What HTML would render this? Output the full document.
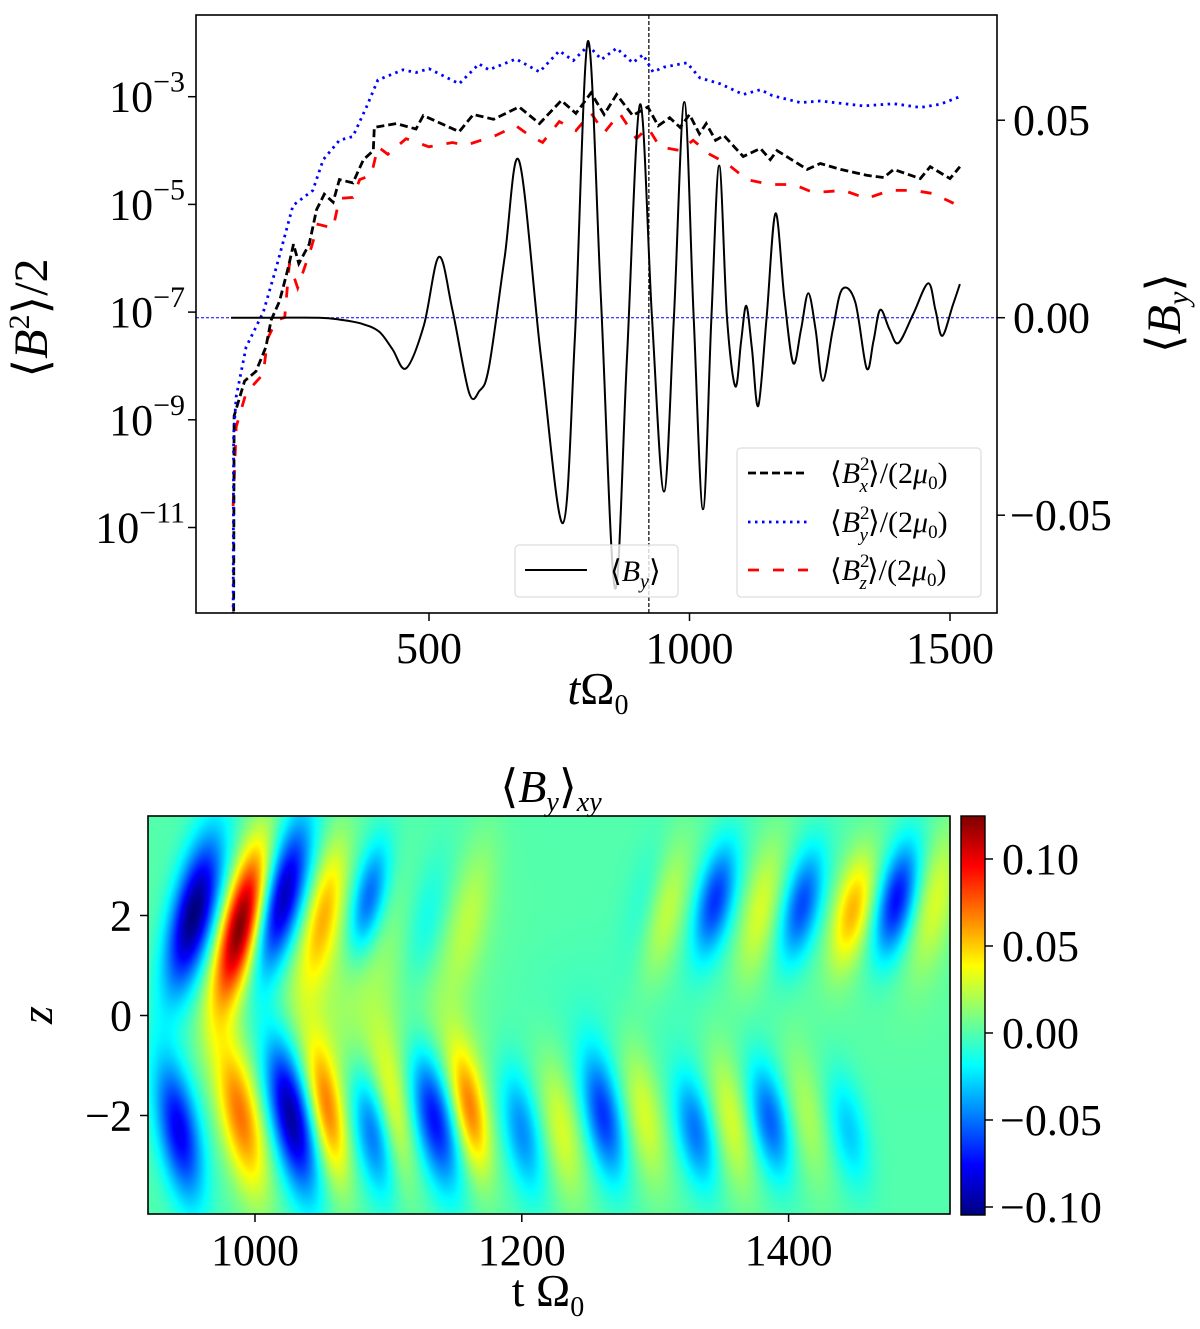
<!DOCTYPE html>
<html><head><meta charset="utf-8">
<style>
html,body{margin:0;padding:0;background:#fff;}
#wrap{position:relative;width:1200px;height:1329px;overflow:hidden;font-family:"Liberation Serif",serif;}
svg{position:absolute;left:0;top:0;}
#hm{position:absolute;left:148px;top:816px;width:802px;height:398px;}
#cb{position:absolute;left:961px;top:816px;width:24px;height:399px;}
</style></head>
<body>
<div id="wrap">
<canvas id="hm" width="802" height="398"></canvas>
<canvas id="cb" width="24" height="399"></canvas>
<svg id="svg" width="1200" height="1329" xmlns="http://www.w3.org/2000/svg"></svg>
</div>
<script>
// ---------- Top chart data ----------
const byT = [120,200,289,330,370,404,430,456,490,519,545,577,597,615,645,673,715,757,780,805,830,857,880,905,928,951,970,990,1008,1026,1042,1057,1072,1088,1099,1109,1120,1132,1148,1165,1182,1199,1214,1228,1242,1256,1275,1293,1318,1340,1353,1366,1384,1401,1429,1458,1472,1485,1505,1519];
const byV = [0,0,0,-0.0005,-0.0015,-0.0035,-0.008,-0.0128,-0.002,0.0154,0.002,-0.019,-0.0185,-0.0126,0.015,0.0397,-0.01,-0.052,-0.005,0.070,0.005,-0.0685,-0.01,0.054,0.0,-0.044,0.0,0.0546,0.0,-0.0485,0.0,0.0385,0.0,-0.0174,-0.006,0.003,-0.008,-0.0223,0.0,0.0264,0.005,-0.0115,-0.003,0.0062,-0.003,-0.016,-0.003,0.0072,0.004,-0.0128,-0.006,0.002,-0.003,-0.0064,0.0008,0.0087,0.002,-0.0046,0.003,0.0085];

const bxT = [125,126,146,168,187,197,213,230,240,250,270,284,299,316,328,354,374,393,395,437,475,489,558,585,624,673,712,754,782,811,836,860,891,920,940,962,982,1000,1019,1032,1050,1066,1103,1136,1155,1168,1226,1251,1290,1340,1373,1392,1443,1462,1500,1519];
const bxL = [-13,-8.93,-8.28,-8.1,-7.65,-7.15,-6.8,-6.17,-5.74,-6.1,-5.74,-5.1,-4.81,-4.96,-4.54,-4.6,-4.17,-4.0,-3.57,-3.5,-3.6,-3.35,-3.65,-3.33,-3.42,-3.19,-3.5,-3.07,-3.31,-2.93,-3.33,-2.96,-3.35,-3.19,-3.54,-3.39,-3.57,-3.33,-3.69,-3.5,-3.81,-3.72,-4.11,-3.96,-4.17,-4.0,-4.35,-4.24,-4.35,-4.46,-4.5,-4.35,-4.52,-4.3,-4.52,-4.3];

const byyT = [124,125,130,149,182,207,239,277,297,328,354,380,402,450,475,500,558,596,615,667,712,750,777,806,831,860,891,911,930,951,995,1020,1059,1103,1136,1159,1213,1251,1334,1392,1443,1481,1519];
const byyL = [-13,-9.28,-8.57,-7.65,-7.0,-6.17,-5.02,-4.74,-4.17,-3.81,-3.74,-3.19,-2.69,-2.5,-2.55,-2.48,-2.76,-2.39,-2.5,-2.3,-2.54,-2.15,-2.33,-2.05,-2.31,-2.1,-2.37,-2.22,-2.54,-2.45,-2.37,-2.65,-2.76,-2.96,-2.87,-2.98,-3.11,-3.08,-3.17,-3.13,-3.2,-3.14,-3.0];

const bzT = [124,130,149,182,190,207,223,232,248,274,287,316,328,354,367,389,402,421,456,500,545,571,628,667,693,718,750,782,811,836,866,898,920,943,982,1007,1039,1072,1110,1155,1200,1238,1296,1340,1385,1430,1468,1507];
const bzL = [-10.6,-9.13,-8.5,-8.15,-7.5,-7.15,-7.1,-6.1,-6.55,-5.8,-5.37,-5.44,-4.89,-4.87,-4.54,-4.46,-3.93,-4.07,-3.78,-3.93,-3.85,-3.9,-3.72,-3.54,-3.72,-3.85,-3.46,-3.63,-3.3,-3.67,-3.31,-3.78,-3.57,-3.93,-4.0,-3.81,-4.07,-4.24,-4.54,-4.63,-4.63,-4.78,-4.74,-4.89,-4.74,-4.74,-4.8,-4.98];

const topXTicks = [500,1000,1500];
const logTicks = [-3,-5,-7,-9,-11];
const rightTicks = [0.05,0.00,-0.05];
const refTime = 922;

// ---------- Heatmap data (blobs) ----------
const blobT   = [954,989,1021,1052,1085,1127,1161,1295,1307,1345,1379,1410,1448,1481,1510, 943,989,1027,1054,1088,1104,1134,1161,1200,1230,1261,1292,1330,1357,1386,1414,1445, 1060,1110,1250,1400];
const blobZ   = [2.0,1.8,2.3,2.1,2.3,1.7,2.0,2.3,2.1,2.3,2.1,2.2,2.1,2.3,2.3, -2.3,-2.0,-2.0,-1.9,-2.3,-2.0,-2.0,-1.9,-2.3,-2.3,-2.0,-2.0,-2.3,-2.1,-2.1,-2.0,-2.3, 1.0,-0.8,0.2,0.3];
const blobA   = [-0.11,0.12,-0.1,0.045,-0.06,-0.022,0.02,-0.015,0.03,-0.065,0.03,-0.06,0.055,-0.075,0.03, -0.08,0.07,-0.1,0.065,-0.055,0.03,-0.08,0.065,-0.045,0.03,-0.065,0.03,-0.05,0.03,-0.055,0.02,-0.03, 0.018,0.015,-0.006,0.004];
const blobST  = [12,10,11,9,9,11,11,11,11,10,10,10,10,10,11, 11,11,11,9,10,9,11,9,10,10,10,10,10,10,10,10,10, 70,50,120,120];
const blobSZ  = [1.1,1.1,1.1,1.0,0.8,1.0,1.1,0.9,1.0,0.8,1.0,0.8,0.8,0.8,1.0, 1.0,1.1,1.1,1.0,0.9,1.0,1.0,0.9,0.9,1.0,0.9,1.0,0.8,1.0,0.8,1.0,0.8, 1.2,1.0,1.0,1.0];
const blobTilt= [8,8,8,7,7,7,7,7,7,7,7,7,7,7,7, -6,-7,-7,-6,-6,-6,-7,-6,-6,-6,-6,-6,-6,-6,-6,-6,-6, 0,0,0,0];
const hmBase = 0.0;
const hmXTicks = [1000,1200,1400];
const hmZTicks = [2,0,-2];
const cbTicks = [0.10,0.05,0.00,-0.05,-0.10];

// ---------- scales ----------
const xs = t => 168.5 + t*0.521;
const ylog = L => 96.7 + (-3 - L)*53.85;
const yby = v => 317.7 - v*3950;
const TL=196,TR=997,TT=15,TB=613;
const HL=148,HR=950,HT=816,HB=1214,T0=919.8,T1=1521,Z0=3.99,Z1=-3.97;
const hx = t => HL + (t-T0)/(T1-T0)*(HR-HL);
const hz = z => HT + (Z0-z)/(Z0-Z1)*(HB-HT);
const CMIN=-0.1046,CMAX=0.1247;
const cy = v => HT + (CMAX-v)/(CMAX-CMIN)*(1215-816);

const NS="http://www.w3.org/2000/svg";
const svg=document.getElementById('svg');
function mk(tag,attrs,parent){const e=document.createElementNS(NS,tag);for(const k in attrs)e.setAttribute(k,attrs[k]);(parent||svg).appendChild(e);return e;}

const defs=mk('defs',{});
const cp=mk('clipPath',{id:'clipTop'},defs);
mk('rect',{x:TL,y:TT,width:TR-TL,height:TB-TT},cp);

function linePath(T,V,fx,fy){let d='';for(let i=0;i<T.length;i++){d+=(i?'L':'M')+fx(T[i]).toFixed(1)+','+fy(V[i]).toFixed(1);}return d;}
function smoothPath(T,V,fx,fy){const P=T.map((t,i)=>[fx(t),fy(V[i])]);let d='M'+P[0][0].toFixed(1)+','+P[0][1].toFixed(1);
 for(let i=0;i<P.length-1;i++){const p0=P[Math.max(0,i-1)],p1=P[i],p2=P[i+1],p3=P[Math.min(P.length-1,i+2)];
 const c1=[p1[0]+(p2[0]-p0[0])/6,p1[1]+(p2[1]-p0[1])/6],c2=[p2[0]-(p3[0]-p1[0])/6,p2[1]-(p3[1]-p1[1])/6];
 d+='C'+c1[0].toFixed(1)+','+c1[1].toFixed(1)+' '+c2[0].toFixed(1)+','+c2[1].toFixed(1)+' '+p2[0].toFixed(1)+','+p2[1].toFixed(1);}return d;}

const g=mk('g',{'clip-path':'url(#clipTop)'});


const zl=mk('line',{x1:TL,x2:TR,y1:yby(0),y2:yby(0),stroke:'#0000ff','stroke-width':1,'stroke-dasharray':'3,2'},g);


const vl=mk('line',{x1:xs(refTime),x2:xs(refTime),y1:TT,y2:TB,stroke:'#000','stroke-width':1.2,'stroke-dasharray':'4,2'},g);


const pz=mk('path',{d:linePath(bzT,bzL,xs,ylog),fill:'none',stroke:'#ff0000','stroke-width':2.8,'stroke-dasharray':'11,14'},g);


const px=mk('path',{d:linePath(bxT,bxL,xs,ylog),fill:'none',stroke:'#000','stroke-width':2.8,'stroke-dasharray':'8,4'},g);


const py=mk('path',{d:linePath(byyT,byyL,xs,ylog),fill:'none',stroke:'#0000ff','stroke-width':2.8,'stroke-dasharray':'2.5,4.5'},g);


const pb=mk('path',{d:smoothPath(byT,byV,xs,yby),fill:'none',stroke:'#000','stroke-width':2},g);



const frame=mk('rect',{x:TL,y:TT,width:TR-TL,height:TB-TT,fill:'none',stroke:'#000','stroke-width':1.6});



function txt(s,x,y,size,anchor,parent){const t=mk('text',{x:x,y:y,'font-size':size,'text-anchor':anchor||'middle','font-family':'Liberation Serif, serif'},parent);t.innerHTML=s;return t;}

topXTicks.forEach(v=>{const x=xs(v);mk('line',{x1:x,x2:x,y1:TB,y2:TB+8,stroke:'#000','stroke-width':1.5});
 const t=txt(String(v),x,663,44);});
logTicks.forEach(L=>{const y=ylog(L);mk('line',{x1:TL-8,x2:TL,y1:y,y2:y,stroke:'#000','stroke-width':1.5});
 const t=txt('10<tspan dy="-20" font-size="30">−'+(-L)+'</tspan>',185,y+15,44,'end');});
rightTicks.forEach(v=>{const y=yby(v);mk('line',{x1:TR,x2:TR+8,y1:y,y2:y,stroke:'#000','stroke-width':1.5});
 const s=(v<0?'−':'')+Math.abs(v).toFixed(2);const t=txt(s,v<0?1010:1013,y+15,44,'start');});

let t1=txt('t<tspan font-style="normal">Ω</tspan><tspan font-size="28" dy="10" font-style="normal">0</tspan>',598,704,46);t1.setAttribute('font-style','italic');

let yl=txt('⟨<tspan font-style="italic">B</tspan><tspan font-size="30" dy="-18">2</tspan><tspan dy="18">⟩/2</tspan>',0,0,48);
yl.setAttribute('transform','translate(47,318) rotate(-90)');

let yr=txt('⟨<tspan font-style="italic">B</tspan><tspan font-size="30" dy="8" font-style="italic">y</tspan><tspan dy="-8">⟩</tspan>',0,0,48);
yr.setAttribute('transform','translate(1180,313) rotate(-90)');


const lg1=mk('g',{});

mk('rect',{x:515,y:545,width:163,height:52,rx:4,fill:'rgba(255,255,255,0.8)',stroke:'#ddd','stroke-width':1.2},lg1);
mk('line',{x1:525,x2:587,y1:570,y2:570,stroke:'#000','stroke-width':2},lg1);
txt('⟨<tspan font-style="italic">B</tspan><tspan font-size="20" dy="7" font-style="italic">y</tspan><tspan dy="-7">⟩</tspan>',610,581,30,'start',lg1);

const lg2=mk('g',{});

mk('rect',{x:737,y:448,width:244,height:149,rx:4,fill:'rgba(255,255,255,0.8)',stroke:'#ddd','stroke-width':1.2},lg2);
const legY=[473,522,570],legC=['#000','#0000ff','#ff0000'],legD=['8,4','2.5,4.5','11,14'],legS=['x','y','z'];
for(let i=0;i<3;i++){
 const e=mk('line',{x1:748,x2:808,y1:legY[i],y2:legY[i],stroke:legC[i],'stroke-width':2.8,'stroke-dasharray':legD[i]},lg2);
 
 
 const t=txt('⟨<tspan font-style="italic">B</tspan><tspan font-size="19" dy="-13">2</tspan><tspan font-size="19" dx="-10" dy="22" font-style="italic">'+legS[i]+'</tspan><tspan dy="-9">⟩/(2</tspan><tspan font-style="italic">μ</tspan><tspan font-size="19" dy="6">0</tspan><tspan dy="-6">)</tspan>',830,legY[i]+10,30,'start',lg2);
 
 
}

// ---------- heatmap ----------
function jet(v){const c=x=>Math.max(0,Math.min(1,x));return [c(1.5-Math.abs(4*v-3)),c(1.5-Math.abs(4*v-2)),c(1.5-Math.abs(4*v-1))];}
const cv=document.getElementById('hm'),ctx=cv.getContext('2d');
const W=cv.width,H=cv.height,img=ctx.createImageData(W,H);
for(let j=0;j<H;j++){const z=Z0+(Z1-Z0)*(j+0.5)/H;
 for(let i=0;i<W;i++){const t=T0+(T1-T0)*(i+0.5)/W;let v=hmBase;
  for(let k=0;k<blobT.length;k++){const dz=z-blobZ[k];const dt=t-blobT[k]-blobTilt[k]*dz;
   const e=(dt*dt)/(2*blobST[k]*blobST[k])+(dz*dz)/(2*blobSZ[k]*blobSZ[k]);if(e<12)v+=blobA[k]*Math.exp(-e);}
  const c=jet((v-CMIN)/(CMAX-CMIN));const p=(j*W+i)*4;
  img.data[p]=c[0]*255;img.data[p+1]=c[1]*255;img.data[p+2]=c[2]*255;img.data[p+3]=255;}}
ctx.putImageData(img,0,0);
const cb=document.getElementById('cb'),cctx=cb.getContext('2d');
for(let j=0;j<cb.height;j++){const v=CMAX-(CMAX-CMIN)*(j+0.5)/cb.height;const c=jet((v-CMIN)/(CMAX-CMIN));
 cctx.fillStyle='rgb('+Math.round(c[0]*255)+','+Math.round(c[1]*255)+','+Math.round(c[2]*255)+')';cctx.fillRect(0,j,24,1);}

const hf=mk('rect',{x:HL,y:HT,width:HR-HL,height:HB-HT,fill:'none',stroke:'#000','stroke-width':1.6});

const cf=mk('rect',{x:961,y:816,width:24,height:399,fill:'none',stroke:'#000','stroke-width':1.4});

hmXTicks.forEach(v=>{const x=hx(v);mk('line',{x1:x,x2:x,y1:HB,y2:HB+8,stroke:'#000','stroke-width':1.5});
 const t=txt(String(v),x,1265,44);});
hmZTicks.forEach(v=>{const y=hz(v);mk('line',{x1:HL-8,x2:HL,y1:y,y2:y,stroke:'#000','stroke-width':1.5});
 const t=txt((v<0?'−':'')+Math.abs(v),132,y+15,44,'end');});
cbTicks.forEach(v=>{const y=cy(v);mk('line',{x1:985,x2:993,y1:y,y2:y,stroke:'#000','stroke-width':1.5});
 const t=txt((v<0?'−':'')+Math.abs(v).toFixed(2),v<0?1000:1002,y+15,44,'start');});
let ht=txt('⟨<tspan font-style="italic">B</tspan><tspan font-size="28" dy="9" font-style="italic">y</tspan><tspan dy="-9">⟩</tspan><tspan font-size="28" dy="9" font-style="italic">xy</tspan>',551,802,46);

let hxl=txt('t Ω<tspan font-size="28" dy="10">0</tspan>',548,1306,46);

let hzl=txt('z',0,0,46);hzl.setAttribute('font-style','italic');
hzl.setAttribute('transform','translate(52,1015) rotate(-90)');

</script>
</body></html>
